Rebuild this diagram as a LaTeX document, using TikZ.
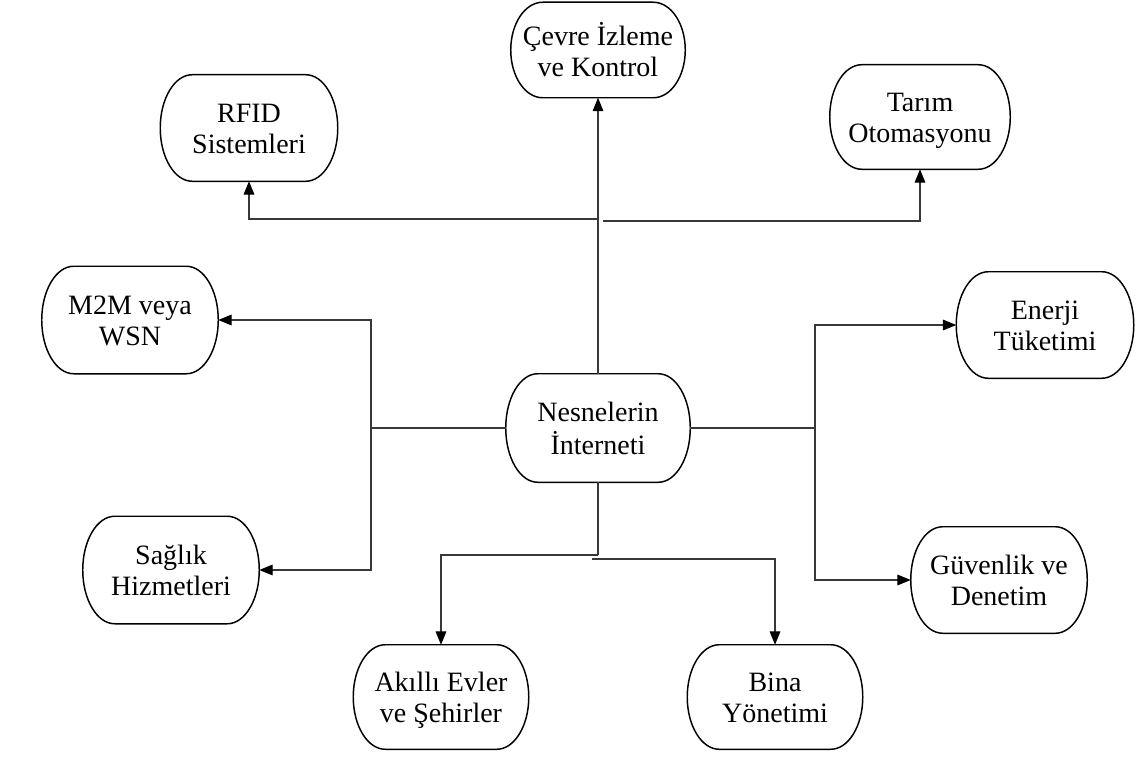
\documentclass[tikz,border=0pt]{standalone}
\usepackage{fontspec}
\setmainfont{Liberation Serif}
\usetikzlibrary{arrows.meta,calc}

% horizontal radius of the rounded pill ends
\def\pillrx{24pt}

% outline of a pill-shaped box around a named node
\newcommand{\pill}[1]{%
  \draw[pillline] let \p1=(#1.north), \p2=(#1.south), \n1={(\y1-\y2)/2} in
    ([xshift=\pillrx]#1.north west) -- ([xshift=-\pillrx]#1.north east)
    arc[start angle=90,end angle=-90,x radius=\pillrx,y radius=\n1]
    -- ([xshift=\pillrx]#1.south west)
    arc[start angle=270,end angle=90,x radius=\pillrx,y radius=\n1] -- cycle;}

% two centred lines, set a little below the middle of the box
\newcommand{\twolines}[1]{\raisebox{-3pt}[\height][\depth]{\begin{tabular}{@{}c@{}}#1\end{tabular}}}

\tikzset{
  box/.style={draw=none, inner sep=0pt,
    font=\fontsize{21pt}{23pt}\selectfont},
  pillline/.style={draw=black, line width=1.1pt},
  link/.style={draw=black!78, line width=0.8pt},
  arr/.style={link, -{Triangle[length=10pt,width=8pt,color=black]}},
}

\begin{document}
\begin{tikzpicture}[x=0.75pt,y=-0.75pt]
  \useasboundingbox[fill=white] (0,0) rectangle (1137,756);

  % topic boxes
  \node[box, minimum width=130.5pt, minimum height=71.25pt] (cevre) at (598,50) {\twolines{Çevre İzleme\\ve Kontrol}};
  \node[box, minimum width=132.75pt, minimum height=79.5pt] (rfid) at (249,128) {\twolines{RFID\\Sistemleri}};
  \node[box, minimum width=135pt, minimum height=78pt] (tarim) at (920,117) {\twolines{Tarım\\Otomasyonu}};
  \node[box, minimum width=132pt, minimum height=80.25pt] (m2m) at (130,320) {\twolines{M2M veya\\WSN}};
  \node[box, minimum width=132.75pt, minimum height=79.5pt] (enerji) at (1045,325) {\twolines{Enerji\\Tüketimi}};
  \node[box, minimum width=138pt, minimum height=81pt] (iot) at (598,428) {\twolines{Nesnelerin\\İnterneti}};
  \node[box, minimum width=132pt, minimum height=80.25pt] (saglik) at (171,570) {\twolines{Sağlık\\Hizmetleri}};
  \node[box, minimum width=132pt, minimum height=79.5pt] (guven) at (999,580) {\twolines{Güvenlik ve\\Denetim}};
  \node[box, minimum width=131.25pt, minimum height=78pt] (akilli) at (441,697) {\twolines{Akıllı Evler\\ve Şehirler}};
  \node[box, minimum width=131.25pt, minimum height=78pt] (bina) at (775,697) {\twolines{Bina\\Yönetimi}};

  \foreach \nm in {cevre,rfid,tarim,m2m,enerji,iot,saglik,guven,akilli,bina} {\pill{\nm}}

  % branch points of the connector tree
  \coordinate (topL) at (598,219);
  \coordinate (topR) at (603,221);
  \coordinate (west) at (371,428);
  \coordinate (east) at (815,428);
  \coordinate (botL) at (598,555);
  \coordinate (botR) at (592,559);

  % upward branches
  \draw[arr] (iot.north) -- (cevre.south);
  \draw[arr] (topL) -| (rfid.south);
  \draw[arr] (topR) -| (tarim.south);

  % left branches
  \draw[link] (iot.west) -- (west);
  \draw[arr] (west) |- (m2m.east);
  \draw[arr] (west) |- (saglik.east);

  % right branches
  \draw[link] (iot.east) -- (east);
  \draw[arr] (east) |- (enerji.west);
  \draw[arr] (east) |- (guven.west);

  % downward branches
  \draw[link] (iot.south) -- (botL);
  \draw[arr] (botL) -| (akilli.north);
  \draw[arr] (botR) -| (bina.north);
\end{tikzpicture}
\end{document}
